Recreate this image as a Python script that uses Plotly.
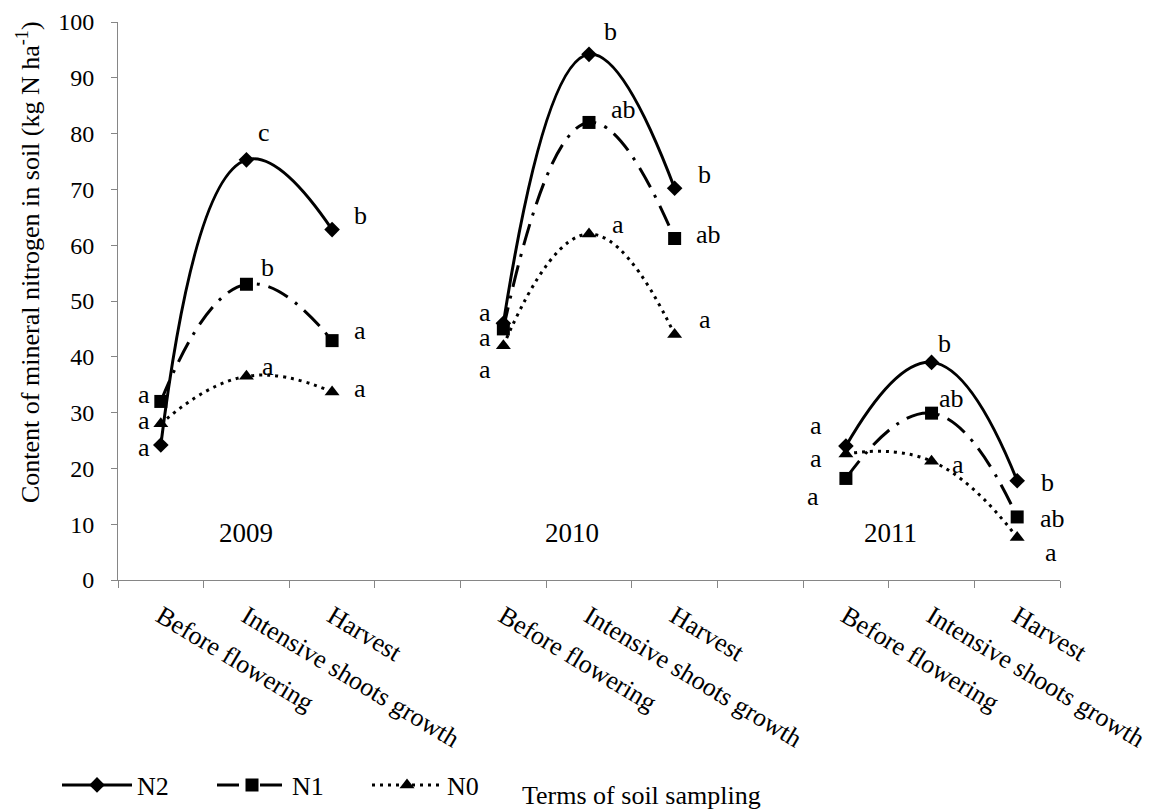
import plotly.graph_objects as go

# ---- data ----
x_pos = list(range(11))
tick_labels = ["Before flowering", "Intensive shoots growth", "Harvest", "",
               "Before flowering", "Intensive shoots growth", "Harvest", "",
               "Before flowering", "Intensive shoots growth", "Harvest"]
years = ["2009", "2010", "2011"]
year_x = [1.0, 4.8, 8.52]
year_y = [8.4, 8.4, 8.4]

n2 = [24.2, 75.3, 62.8, None, 46.0, 94.2, 70.2, None, 24.0, 39.0, 17.8]
n1 = [32.0, 53.0, 42.9, None, 45.0, 82.0, 61.2, None, 18.2, 29.9, 11.3]
n0 = [28.0, 36.5, 33.7, None, 42.0, 62.0, 44.0, None, 22.6, 21.3, 7.6]

n2_letters = ["a", "c", "b", None, "a", "b", "b", None, "a", "b", "b"]
n1_letters = ["a", "b", "a", None, "a", "ab", "ab", None, "a", "ab", "ab"]
n0_letters = ["a", "a", "a", None, "a", "a", "a", None, "a", "a", "a"]

# ---- label offsets (pixels: dx right, dy down) ----
n2_off = [(-17, 3), (18, -27), (28, -14), None, (-18, -11), (21, -23), (30, -14), None, (-30, -21), (13, -19), (30, 2)]
n1_off = [(-17, -7), (21, -17), (28, -10), None, (-18, 9), (34, -13), (34, -4), None, (-33, 18), (20, -15), (35, 2)]
n0_off = [(-17, -3), (22, -10), (28, -3), None, (-18, 24), (29, -10), (30, -15), None, (-30, 5), (26, 3), (34, 15)]

FONT = "Liberation Serif, Times New Roman, serif"

plot_l, plot_r, plot_t, plot_b = 118, 97, 22, 231
plot_w = 1157 - plot_l - plot_r
plot_h = 811 - plot_t - plot_b
bottom_px = 811 - plot_b


def px_x(px):
    return (px - plot_l) / plot_w


def px_y(py):
    return (bottom_px - py) / plot_h


fig = go.Figure()
fig.add_trace(go.Scatter(
    x=x_pos, y=n2, name="N2", mode="lines+markers",
    line=dict(color="black", width=3, shape="spline", smoothing=1.3),
    marker=dict(symbol="diamond", size=12, color="black"),
    connectgaps=False))
fig.add_trace(go.Scatter(
    x=x_pos, y=n1, name="N1", mode="lines+markers",
    line=dict(color="black", width=3, shape="spline", smoothing=1.3, dash="22px,9px,3px,9px"),
    marker=dict(symbol="square", size=13, color="black"),
    connectgaps=False))
fig.add_trace(go.Scatter(
    x=x_pos, y=n0, name="N0", mode="lines+markers",
    line=dict(color="black", width=3, shape="spline", smoothing=1.3, dash="3px,5px"),
    marker=dict(symbol="triangle-up", size=13, color="black"),
    connectgaps=False))

annotations = []
for vals, letters, offs in [(n2, n2_letters, n2_off), (n1, n1_letters, n1_off), (n0, n0_letters, n0_off)]:
    for xi, v, t, o in zip(x_pos, vals, letters, offs):
        if v is None or t is None:
            continue
        annotations.append(dict(x=xi, y=v, xref="x", yref="y", text=t, showarrow=False,
                                xshift=o[0], yshift=-o[1],
                                font=dict(family=FONT, size=26, color="black")))
for yr, xx, yy in zip(years, year_x, year_y):
    annotations.append(dict(x=xx, y=yy, xref="x", yref="y", text=yr, showarrow=False,
                            font=dict(family=FONT, size=27, color="black")))

annotations.append(dict(x=px_x(641), y=px_y(795), xref="paper", yref="paper",
                        xanchor="center", yanchor="middle", text="Terms of soil sampling",
                        showarrow=False, font=dict(family=FONT, size=26, color="black")))
annotations.append(dict(x=px_x(28), y=px_y(262), xref="paper", yref="paper",
                        xanchor="center", yanchor="middle", textangle=-90,
                        text="Content of mineral nitrogen in soil (kg N ha<sup>-1</sup>)",
                        showarrow=False, font=dict(family=FONT, size=26, color="black")))

label_vals = [x for x, t in zip(x_pos, tick_labels) if t]
label_text = [t for t in tick_labels if t]

fig.update_layout(
    width=1157, height=811,
    margin=dict(l=plot_l, r=plot_r, t=plot_t, b=plot_b, autoexpand=False),
    plot_bgcolor="white", paper_bgcolor="white",
    font=dict(family=FONT, size=24, color="black"),
    showlegend=True,
    legend=dict(orientation="h", x=px_x(57), y=px_y(785), xanchor="left", yanchor="middle",
                font=dict(family=FONT, size=26, color="black"),
                itemwidth=70, entrywidth=70, entrywidthmode="pixels", bgcolor="rgba(0,0,0,0)"),
    annotations=annotations,
)

fig.update_xaxes(
    range=[-0.5, 10.5], tickmode="array", tickvals=label_vals, ticktext=label_text,
    tickangle=31, ticks="", showgrid=False, zeroline=False, automargin=False,
    showline=True, linecolor="#868686", linewidth=1,
    tickfont=dict(family=FONT, size=26, color="black"),
    ticklabelstandoff=10,
    minor=dict(tickmode="array", tickvals=[i - 0.5 for i in range(12)],
               ticks="outside", ticklen=7, tickcolor="#868686", showgrid=False),
)
fig.update_yaxes(
    range=[0, 100], dtick=10, ticks="outside", ticklen=6, tickcolor="#868686",
    showgrid=False, zeroline=False, showline=True, linecolor="#868686", linewidth=1,
    automargin=False,
    tickfont=dict(family=FONT, size=24, color="black"),
    ticklabelstandoff=12,
)

fig.write_html("out.html")
